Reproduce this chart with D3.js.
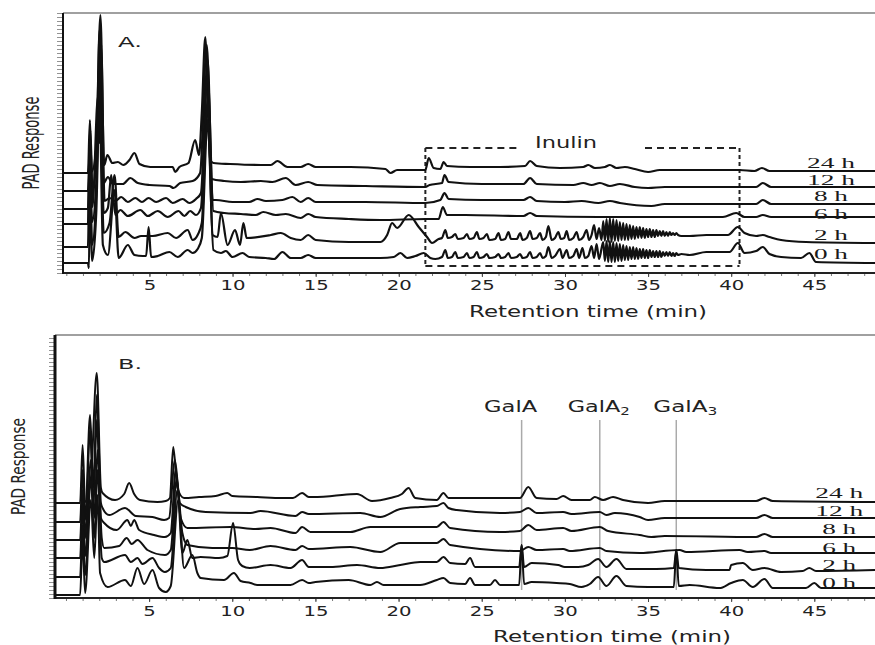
<!DOCTYPE html>
<html><head><meta charset="utf-8">
<script src="https://cdn.jsdelivr.net/npm/d3@7"></script>
<style>body{margin:0;background:#fff}</style>
</head><body><svg id="c" width="875" height="645"></svg>
<script>
// ---------- DATA ----------
const hourLabels = ["24 h","12 h","8 h","6 h","2 h","0 h"];
const xTickValues = [5,10,15,20,25,30,35,40,45];
const inulinRange = [21.6, 40.5];
const galaTimes = [27.4, 32.1, 36.7];
const galaSubs = ["", "2", "3"];

// Panel A (inulin) traces: [retention time (min), PAD response incl. stacking offset]
const a24 = [[-0.2,100],[1.3,100],[1.42,153],[1.52,101],[1.8,125],[2.05,258],[2.28,108],[2.47,118],[2.77,110],[3.1,111],[3.43,108],[3.8,113],[4.1,120],[4.4,109],[5.05,106],[5.95,106],[6.4,106],[6.55,101],[6.8,106],[7.35,110],[7.75,133],[7.98,118],[8.15,160],[8.36,236],[8.5,170],[8.66,113],[8.85,110],[9.85,109],[11.7,108],[12.3,108],[12.7,112],[13.3,106],[14.1,106],[14.55,109],[15.0,106],[17.1,106],[19.2,104],[19.5,100],[19.9,103],[21.6,103],[21.8,115],[22.1,105],[22.5,104],[22.7,111],[22.9,107],[24.3,106],[26.1,106],[27.6,107],[27.9,112],[28.3,107],[29.7,105],[31.1,106],[31.4,108],[31.8,105],[32.4,106],[32.7,108],[33.1,105],[33.6,106],[34.2,104],[35.0,101],[35.7,103],[38.1,103],[40.5,103],[41.4,102],[41.85,105],[42.3,102],[48.65,102]];
const a12 = [[-0.2,82],[1.3,82],[1.45,143],[1.57,83],[1.8,110],[2.0,243],[2.25,90],[2.5,96],[2.8,89],[3.4,89],[3.85,95],[4.3,90],[5.0,88],[6.2,87],[6.45,85],[6.85,90],[7.6,92],[8.05,100],[8.45,228],[8.75,94],[9.5,92],[10.5,91],[11.7,92],[12.4,91],[13.2,95],[13.8,88],[14.55,91],[15.1,88],[18,87],[21.6,86],[21.85,88],[22.6,90],[22.75,98],[23.0,91],[25,89],[27.5,89],[27.9,95],[28.3,89],[30.5,88],[31.1,90],[31.6,88],[32.1,90],[32.7,87],[33.3,89],[34.2,86],[35.0,85],[36,86],[40.5,86],[41.5,86],[41.9,90],[42.4,86],[48.65,86]];
const a8 = [[-0.2,64],[1.3,64],[1.45,133],[1.57,66],[1.9,176],[2.0,130],[2.1,228],[2.3,72],[2.6,75],[2.95,72],[3.3,76],[3.7,71],[4.15,75],[4.55,71],[4.95,75],[5.4,71],[6.0,75],[6.4,70],[7.0,74],[7.4,70],[7.8,74],[8.1,80],[8.5,213],[8.8,73],[9.0,73],[10,71],[11.0,71],[11.5,74],[12,72],[13.0,73],[13.6,76],[14.1,71],[14.55,75],[15.0,71],[18,71],[21.6,70],[22.5,73],[22.75,80],[23.0,74],[25,73],[27.5,73],[27.9,76],[28.3,72],[30,71],[31,72],[32,70],[32.7,72],[33.3,70],[35.2,67],[36,69],[40.5,69],[41.5,69],[41.9,73],[42.4,69],[48.65,69]];
const a6 = [[-0.2,49],[1.3,49],[1.4,123],[1.55,51],[1.8,90],[2.0,213],[2.25,60],[2.5,65],[2.7,98],[2.95,58],[3.25,63],[3.7,57],[4.45,63],[4.9,57],[5.5,62],[6.1,56],[6.75,62],[7.1,57],[7.45,62],[7.8,58],[8.1,65],[8.5,198],[8.85,62],[9.5,60],[10.5,59],[11.4,58],[11.85,61],[12.6,58],[13.2,59],[14.1,55],[14.55,59],[15.0,56],[17,54],[18.9,53],[21.6,54],[22.4,54],[22.65,66],[22.9,58],[24,58],[27.5,57],[27.9,60],[28.3,57],[32,56],[35,56],[39.5,56],[40.3,60],[40.8,56],[41.5,56],[41.9,58],[42.4,56],[48.65,56]];
const a2Early = [[-0.2,26],[1.3,26],[1.4,108],[1.55,28],[1.8,80],[2.0,193],[2.25,40],[2.6,50],[2.9,98],[3.15,36],[3.55,41],[4.1,35],[4.5,37],[5.2,37],[6.1,40],[6.6,35],[7.3,43],[7.6,33],[7.9,38],[8.15,50],[8.5,173],[8.8,38],[9.1,36],[9.3,60],[9.7,28],[10.15,43],[10.45,28],[10.65,50],[10.85,35],[12.3,38],[12.9,40],[13.5,35],[14.1,33],[14.55,38],[15.0,33],[17,31],[18.9,31],[19.3,38],[19.6,50],[19.9,45],[20.6,58],[21.2,46],[21.7,36],[22.0,30]];
const a2Inulin = [[22.4,34],[22.6,35],[22.8,43],[22.95,35],[23.2,36],[23.4,39],[23.55,34],[23.9,35],[24.1,39],[24.25,34],[24.5,35],[24.7,41],[24.85,34],[25.1,35],[25.3,39],[25.45,33],[25.8,34],[26.0,40],[26.15,33],[26.4,34],[26.6,41],[26.75,34],[27.1,34],[27.3,40],[27.45,33],[27.7,35],[27.9,42],[28.05,34],[28.3,35],[28.5,40],[28.65,33],[28.85,36],[29.0,47],[29.2,33],[29.4,35],[29.6,41],[29.75,34],[29.95,35],[30.1,42],[30.25,33],[30.5,35],[30.7,41],[30.85,33],[31.1,36],[31.3,43],[31.45,33],[31.6,38],[31.75,48],[31.9,34],[32.05,45],[32.2,33],
  [32.3,52],[32.4,32],[32.5,54],[32.6,31],[32.7,55],[32.8,31],[32.9,54],[33.0,32],[33.1,53],[33.2,32],[33.3,51],[33.4,33],[33.5,50],[33.6,33],[33.7,49],[33.8,33],[33.9,48],[34.0,34],[34.1,47],[34.2,34],[34.3,46],[34.4,35],[34.5,46],[34.6,35],[34.7,45],[34.8,35],[34.9,44],[35.0,36],[35.1,44],[35.2,36],[35.3,43],[35.4,36],[35.5,43],[35.6,37],[35.7,42],[35.8,37],[35.9,42],[36.0,37],[36.1,41],[36.2,37],[36.3,41],[36.4,38],[36.5,40],[36.6,38],[36.7,40],[36.8,38]];
const a2Late = [[37.0,37],[37.5,37],[38.5,38],[39.8,38],[40.4,46],[40.8,40],[41.5,37],[41.9,38],[42.3,36],[43,33],[44.5,31],[48.65,30]];
const a0Early = [[-0.2,10],[1.3,10],[1.36,5],[1.42,93],[1.55,12],[1.8,60],[2.0,173],[2.2,28],[2.5,18],[2.9,83],[3.15,15],[3.7,28],[4.1,18],[4.6,17],[4.8,17],[4.95,46],[5.1,16],[5.5,17],[6.2,21],[6.7,16],[7.3,23],[7.6,20],[7.9,24],[8.15,35],[8.5,153],[8.85,23],[9.3,20],[9.6,22],[10.0,16],[10.6,20],[11.0,16],[12.0,15],[12.5,14],[13.0,21],[13.5,15],[14.1,15],[14.55,18],[15.0,15],[17,15],[18.9,15],[19.7,16],[20.1,20],[20.5,15],[21.0,17],[21.5,20],[21.9,15]];
const a0Inulin = [[22.2,14],[22.6,16],[22.8,23],[22.95,15],[23.2,16],[23.4,21],[23.55,15],[23.9,16],[24.1,20],[24.25,15],[24.5,16],[24.7,21],[24.85,15],[25.1,16],[25.3,19],[25.45,15],[25.8,16],[26.0,19],[26.15,15],[26.4,16],[26.6,20],[26.75,15],[27.1,16],[27.3,19],[27.45,15],[27.7,16],[27.9,21],[28.05,15],[28.3,16],[28.5,20],[28.65,15],[28.85,17],[29.0,26],[29.2,15],[29.4,17],[29.7,24],[29.85,15],[30.1,23],[30.25,15],[30.5,17],[30.7,24],[30.85,15],[31.05,25],[31.2,15],[31.4,17],[31.6,27],[31.75,15],[31.9,29],[32.05,14],
  [32.3,31],[32.4,12],[32.5,32],[32.6,11],[32.7,32],[32.8,11],[32.9,31],[33.0,11],[33.1,30],[33.2,12],[33.3,29],[33.4,12],[33.5,28],[33.6,13],[33.7,27],[33.8,13],[33.9,26],[34.0,14],[34.1,26],[34.2,14],[34.3,25],[34.4,14],[34.5,24],[34.6,15],[34.7,24],[34.8,15],[34.9,23],[35.0,15],[35.1,23],[35.2,16],[35.3,22],[35.4,16],[35.5,22],[35.6,16],[35.7,22],[35.8,16],[35.9,21],[36.0,17],[36.1,21],[36.2,17],[36.3,21],[36.4,17],[36.5,20],[36.6,17],[36.7,20],[36.8,18]];
const a0Late = [[37.0,19],[37.5,18],[38.5,21],[39.9,21],[40.4,30],[40.8,20],[41.5,22],[41.9,26],[42.3,19],[43.0,16],[44.2,15],[44.7,20],[45.1,11],[48.65,10]];

// Panel B (pectin) traces
const b24 = [[-0.66,95],[0.85,95],[1.0,153],[1.15,96],[1.5,120],[1.85,225],[2.1,110],[2.2,105],[2.95,98],[3.5,104],[3.8,115],[4.1,104],[4.45,98],[5.5,96],[6.0,97],[6.25,100],[6.45,151],[6.7,110],[7.1,100],[8.0,101],[9.0,102],[9.7,105],[10.0,102],[11.5,101],[13.0,100],[13.65,100],[14.2,105],[14.6,101],[16,102],[17.5,104],[18.4,97],[19.5,100],[20.2,104],[20.6,110],[21.0,100],[22.3,98],[22.7,105],[23.0,100],[25,100],[27.3,100],[27.8,111],[28.3,100],[29.5,99],[29.9,102],[30.4,98],[31.5,98],[31.8,101],[32.3,98],[32.9,101],[33.5,98],[35,95],[36,97],[41.5,97],[42.0,100],[42.5,97],[48.65,96]];
const b12 = [[-0.66,76],[0.85,76],[1.0,128],[1.15,78],[1.45,183],[1.65,110],[1.85,203],[2.1,95],[2.2,90],[2.6,83],[3.55,90],[4.2,82],[5.2,81],[5.9,78],[6.2,80],[6.55,138],[6.85,95],[7.2,91],[8.4,86],[11.1,85],[11.7,87],[13.8,82],[14.2,86],[14.6,84],[17.7,85],[18.9,81],[20.1,89],[21.3,91],[22.3,92],[22.7,95],[23.0,90],[23.5,88],[26.1,85],[27.3,86],[27.8,90],[28.3,85],[29.9,86],[30.4,84],[32.1,86],[32.5,83],[33.0,85],[34.5,81],[35.0,78],[36,80],[41.5,80],[42.0,83],[42.5,80],[48.65,80]];
const b8 = [[-0.66,58],[0.85,58],[1.0,108],[1.15,60],[1.45,168],[1.65,90],[1.85,178],[2.1,80],[2.3,75],[3.05,68],[3.7,78],[3.9,72],[4.1,78],[4.4,68],[5.3,63],[5.95,61],[6.3,65],[6.6,128],[6.9,80],[7.3,70],[9.9,71],[11.4,69],[12.3,70],[13.8,65],[14.2,71],[14.7,66],[17.1,66],[18.3,71],[21.3,71],[22.3,71],[22.7,76],[23.1,70],[26.1,66],[27.3,67],[27.8,73],[28.3,68],[29.9,70],[30.4,67],[32.1,71],[32.6,67],[34.5,63],[35.2,61],[36,62],[41.5,61],[42,64],[42.5,61],[48.65,61]];
const b6 = [[-0.66,40],[0.85,40],[1.0,93],[1.15,42],[1.5,138],[1.7,80],[1.9,148],[2.15,60],[2.3,50],[3.2,52],[3.65,60],[3.95,54],[4.3,58],[4.9,48],[5.95,43],[6.3,48],[6.65,118],[7.0,65],[7.3,53],[8.8,50],[10.0,50],[11.05,48],[12.3,52],[13.8,48],[14.2,52],[14.6,49],[17.1,51],[18.9,46],[20.1,55],[22.3,55],[22.7,59],[23.1,53],[27.3,47],[27.8,51],[28.3,48],[29.9,49],[30.3,47],[32.1,50],[32.5,47],[34.5,45],[36.9,48],[37.3,46],[40.5,48],[41,46],[42.0,47],[42.4,45],[48.65,45]];
const b2 = [[-0.66,21],[0.85,21],[1.0,73],[1.15,23],[1.5,118],[1.7,60],[1.9,128],[2.15,40],[2.3,36],[3.55,43],[3.9,36],[4.3,40],[4.6,34],[5.2,40],[5.6,30],[5.95,26],[6.3,30],[6.7,108],[7.0,45],[7.3,58],[7.6,40],[8.1,41],[9.2,40],[9.7,42],[10.05,75],[10.35,38],[10.6,32],[11.05,30],[12.3,33],[13.5,30],[14.2,38],[14.6,31],[15.9,31],[17.5,33],[18.9,30],[20.1,33],[21.3,36],[22.3,36],[22.7,41],[23.1,35],[24.0,34],[24.3,40],[24.6,31],[27.25,31],[27.4,53],[27.55,31],[28.0,35],[29.6,33],[30.0,31],[30.8,31],[31.4,33],[32.0,39],[32.5,31],[33.1,39],[33.7,29],[35.5,29],[36.55,30],[36.7,48],[36.85,30],[38.5,28],[39.9,28],[40.0,33],[40.7,35],[41.3,28],[42.0,30],[43.0,26],[44.3,27],[44.7,30],[45.1,27],[48.65,28]];
const b0 = [[-0.66,3],[0.85,3],[1.0,58],[1.15,5],[1.5,98],[1.7,40],[1.9,103],[2.05,25],[2.5,11],[3.55,18],[3.9,12],[4.3,30],[4.7,14],[5.2,28],[5.6,10],[6.0,6],[6.3,12],[6.75,98],[7.1,30],[7.6,43],[7.9,25],[8.1,20],[9.5,18],[10.1,25],[10.5,17],[11.1,15],[11.5,13],[13.5,13],[14.2,18],[14.6,15],[15.0,16],[17.0,18],[18.3,13],[18.7,16],[19.1,13],[21.3,13],[22.3,18],[22.7,20],[23.1,15],[24.0,14],[24.3,20],[24.6,13],[25.5,13],[25.8,18],[26.1,13],[27.25,13],[27.4,53],[27.55,14],[28.0,16],[29.5,15],[30.3,14],[31.0,11],[31.5,14],[32.0,21],[32.5,12],[33.1,22],[33.7,12],[35,11],[36.55,11],[36.7,48],[36.85,12],[37.5,13],[39.3,10],[40.0,15],[40.7,18],[41.3,11],[42.0,19],[42.5,10],[44.5,10],[45.0,15],[45.4,10],[48.65,10]];

const a2 = a2Early.concat(a2Inulin, a2Late);
const a0 = a0Early.concat(a0Inulin, a0Late);

// ---------- DRAW ----------
const W = 875;
const svg = d3.select("#c");
const SANS = "'DejaVu Sans', Verdana, sans-serif";

function fit(sel, w) { sel.attr("textLength", w).attr("lengthAdjust", "spacingAndGlyphs"); return sel; }

function drawPanel(cfg) {
  const x = d3.scaleLinear().domain(cfg.xDomain).range([cfg.left, W]);
  const y = d3.scaleLinear().domain(cfg.yDomain).range([cfg.bottom, cfg.top]);
  const g = svg.append("g");

  g.append("line").attr("x1", cfg.left).attr("x2", W).attr("y1", cfg.top).attr("y2", cfg.top)
    .attr("stroke", "#808080").attr("stroke-width", 1.5);

  const ya = g.append("g").attr("transform", `translate(${cfg.left},0)`)
    .call(d3.axisLeft(y).tickValues(d3.range(cfg.yDomain[0], cfg.yDomain[1] + 0.01, 4)).tickSize(6).tickFormat(""));
  ya.select(".domain").remove();
  ya.selectAll("line").attr("stroke", "#777").attr("stroke-width", 0.8);

  const xm = g.append("g").attr("transform", `translate(0,${cfg.bottom})`)
    .call(d3.axisBottom(x).tickValues(d3.range(0, 49, 1)).tickSize(3).tickFormat(""));
  xm.select(".domain").remove();
  xm.selectAll("line").attr("stroke", "#555").attr("stroke-width", 0.8);

  const xa = g.append("g").attr("transform", `translate(0,${cfg.bottom})`)
    .call(d3.axisBottom(x).tickValues(xTickValues).tickSize(4).tickPadding(cfg.tickPad));
  xa.select(".domain").remove();
  xa.selectAll("line").attr("stroke", "#444");
  xa.selectAll("text").attr("font-family", SANS).attr("font-size", 14).attr("fill", "#222")
    .each(function(d) { fit(d3.select(this), 12.5 * String(d).length); });

  g.append("line").attr("x1", cfg.left).attr("x2", W).attr("y1", cfg.bottom).attr("y2", cfg.bottom)
    .attr("stroke", "#222").attr("stroke-width", 2);
  g.append("line").attr("x1", cfg.left).attr("x2", cfg.left).attr("y1", cfg.top).attr("y2", cfg.bottom + 1)
    .attr("stroke", "#111").attr("stroke-width", cfg.leftW);

  cfg.extras && cfg.extras(g, x, y);

  const line = d3.line().x(d => x(d[0])).y(d => y(d[1])).curve(d3.curveMonotoneX);
  cfg.traces.forEach((tr, i) => {
    g.append("path").datum(tr).attr("d", line)
      .attr("fill", "none").attr("stroke", "#111").attr("stroke-width", cfg.strokeW)
      .attr("stroke-linejoin", "round");
    const last = tr[tr.length - 1];
    const lbl = hourLabels[i];
    fit(g.append("text").attr("x", x(cfg.labelT)).attr("y", y(last[1]) + cfg.labelDy[i])
      .attr("text-anchor", "middle").attr("font-family", "'Liberation Serif', 'Times New Roman', serif")
      .attr("font-size", 14.5).attr("fill", "#1a1a1a").text(lbl), lbl.length === 4 ? 48 : 34);
  });

  fit(g.append("text").attr("x", 118).attr("y", cfg.top + 34).attr("font-family", SANS)
    .attr("font-size", 14).attr("fill", "#222").text(cfg.letter), 24);

  fit(g.append("text").attr("x", cfg.xTitleX).attr("y", cfg.bottom + 44).attr("text-anchor", "middle")
    .attr("font-family", SANS).attr("font-size", 16).attr("fill", "#222").text("Retention time (min)"), 238);

  fit(g.append("text").attr("transform", `translate(${cfg.yTitleX},${(cfg.top + cfg.bottom) / 2}) rotate(-90)`)
    .attr("text-anchor", "middle").attr("font-family", "'DejaVu Sans Condensed', 'DejaVu Sans', sans-serif")
    .attr("font-size", cfg.yTitleSize).attr("fill", "#222").text("PAD Response"), cfg.yTitleLen);
}

drawPanel({
  letter: "A.", left: 63, top: 13, bottom: 273, xDomain: [-0.2, 48.65], yDomain: [0, 260],
  traces: [a24, a12, a8, a6, a2, a0], labelT: 46.0, labelDy: [-3, -2, -3, 2, -3, -4],
  strokeW: 2.2, leftW: 2, tickPad: 3,
  xTitleX: 588, yTitleX: 39, yTitleSize: 23, yTitleLen: 93,
  extras: (g, x, y) => {
    const x0 = x(inulinRange[0]), x1 = x(inulinRange[1]);
    const yt = y(125), yb = y(7);
    const st = (s, dash, w) => s.attr("stroke", "#222").attr("stroke-width", w).attr("stroke-dasharray", dash).attr("fill", "none");
    st(g.append("line").attr("x1", x0).attr("x2", 517).attr("y1", yt).attr("y2", yt), "7,5", 1.8);
    st(g.append("line").attr("x1", 645).attr("x2", x1).attr("y1", yt).attr("y2", yt), "7,5", 1.8);
    st(g.append("line").attr("x1", x0).attr("x2", x1).attr("y1", yb).attr("y2", yb), "7,5", 1.8);
    st(g.append("line").attr("x1", x0).attr("x2", x0).attr("y1", yt).attr("y2", yb), "4,3", 2);
    st(g.append("line").attr("x1", x1).attr("x2", x1).attr("y1", yt).attr("y2", yb), "4,3", 2);
    fit(g.append("text").attr("x", 566).attr("y", yt).attr("text-anchor", "middle")
      .attr("font-family", SANS).attr("font-size", 15).attr("fill", "#222").text("Inulin"), 62);
  }
});

drawPanel({
  letter: "B.", left: 55, top: 335, bottom: 598, xDomain: [-0.66, 48.65], yDomain: [0, 263],
  traces: [b24, b12, b8, b6, b2, b0], labelT: 46.5, labelDy: [-4, -2, -3, 0, 0, 0],
  strokeW: 2.0, leftW: 3, tickPad: 4,
  xTitleX: 612, yTitleX: 25, yTitleSize: 19, yTitleLen: 97,
  extras: (g, x, y) => {
    const dx = [-11, -1, 9], widths = [53, 62, 64];
    galaTimes.forEach((t, i) => {
      g.append("line").attr("x1", x(t)).attr("x2", x(t)).attr("y1", y(178)).attr("y2", y(8))
        .attr("stroke", "#aaa").attr("stroke-width", 1.5);
      const tx = g.append("text").attr("x", x(t) + dx[i]).attr("y", y(186)).attr("text-anchor", "middle")
        .attr("font-family", SANS).attr("font-size", 15).attr("fill", "#222");
      tx.append("tspan").text("GalA");
      if (galaSubs[i]) tx.append("tspan").attr("font-size", 10).attr("dy", 3).text(galaSubs[i]);
      fit(tx, widths[i]);
    });
  }
});
</script>
</body></html>
